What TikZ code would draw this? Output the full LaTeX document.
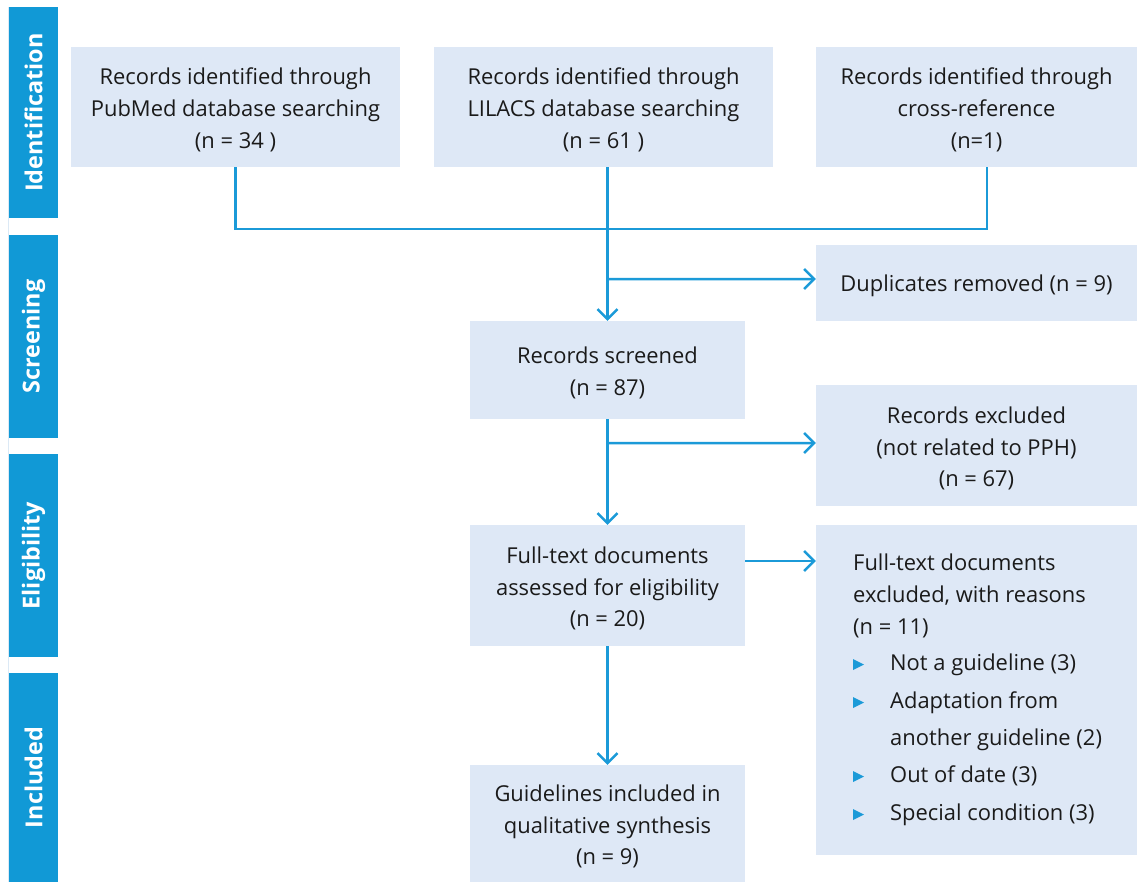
\documentclass[tikz,border=0pt]{standalone}
\usepackage{fontspec}
\setmainfont{Open Sans}
\usetikzlibrary{arrows.meta}
\definecolor{stage}{HTML}{1199D6}
\definecolor{boxfill}{HTML}{DEE8F6}
\definecolor{ink}{HTML}{1A1A1A}
\definecolor{flow}{HTML}{1B9AD8}
\definecolor{rail}{HTML}{DCE9F5}
\begin{document}
\begin{tikzpicture}[x=1bp,y=-1bp,
  stagebar/.style={fill=stage, text=white, font=\bfseries\fontsize{23.5}{26}\selectfont,
    rotate=90, inner sep=0pt, minimum height=49bp},
  flowbox/.style={fill=boxfill, inner sep=0pt},
  boxtext/.style={text=ink, inner sep=0pt, align=center, yshift=-3bp,
    font=\fontsize{22}{32}\selectfont},
  itemtext/.style={text=ink, inner sep=0pt, anchor=base west,
    font=\fontsize{22}{32}\selectfont},
  flowline/.style={draw=flow, line width=2.5bp},
  flowarrow/.style={flowline, -{Straight Barb[length=10bp,width=20bp]}},
  bulletmark/.style={fill=flow}
]
\useasboundingbox (0,0) rectangle (1137,882);

% thin rail behind the stage bars
\draw[rail, line width=1bp] (8.5,7) -- (8.5,882);

% stage bars
\node[stagebar, minimum width=211bp] (sid)  at (33.5,112.5) {Identification};
\node[stagebar, minimum width=203bp] (sscr) at (33.5,336.5) {Screening};
\node[stagebar, minimum width=203bp] (sel)  at (33.5,555.5) {Eligibility};
\node[stagebar, minimum width=209bp] (sinc) at (33.5,777.5) {Included};

% identification boxes
\node[flowbox, minimum width=329bp, minimum height=120bp] (pub) at (235.5,107) {};
\node[boxtext] (pubt) at (pub.center)
  {Records identified through\\PubMed database searching\\(n = 34 )};
\node[flowbox, minimum width=339bp, minimum height=120bp] (lil) at (603.5,107) {};
\node[boxtext] (lilt) at (lil.center)
  {Records identified through\\LILACS database searching\\(n = 61 )};
\node[flowbox, minimum width=321bp, minimum height=120bp] (cross) at (976.5,107) {};
\node[boxtext] (crosst) at (cross.center)
  {Records identified through\\cross-reference\\(n=1)};

% screening
\node[flowbox, minimum width=321bp, minimum height=76bp] (dup) at (976.5,283) {};
\node[boxtext] (dupt) at (dup.center) {Duplicates removed (n = 9)};
\node[flowbox, minimum width=275bp, minimum height=98bp] (scr) at (607.5,370) {};
\node[boxtext] (scrt) at (scr.center) {Records screened\\(n = 87)};
\node[flowbox, minimum width=321bp, minimum height=121bp] (excl) at (976.5,445.5) {};
\node[boxtext] (exclt) at (excl.center)
  {Records excluded\\(not related to PPH)\\(n = 67)};

% eligibility
\node[flowbox, minimum width=275bp, minimum height=121bp] (ft) at (607.5,585.5) {};
\node[boxtext] (ftt) at (ft.center)
  {Full-text documents\\assessed for eligibility\\(n = 20)};
\node[flowbox, minimum width=321bp, minimum height=330bp] (ftx) at (976.5,690) {};

\node[itemtext] (fx1) at (853,570) {Full-text documents};
\node[itemtext] (fx2) at (853,602) {excluded, with reasons};
\node[itemtext] (fx3) at (853,634) {(n = 11)};
\node[itemtext] (r1)  at (890,670) {Not a guideline (3)};
\node[itemtext] (r2)  at (890,708) {Adaptation from};
\node[itemtext] (r2b) at (890,745) {another guideline (2)};
\node[itemtext] (r3)  at (890,782) {Out of date (3)};
\node[itemtext] (r4)  at (890,820) {Special condition (3)};
\foreach \b in {670,708,782,820}
  \fill[bulletmark] (853,\b-11) -- (864,\b-5.5) -- (853,\b) -- cycle;

% included
\node[flowbox, minimum width=275bp, minimum height=117bp] (gl) at (607.5,823.5) {};
\node[boxtext] (glt) at (gl.center)
  {Guidelines included in\\qualitative synthesis\\(n = 9)};

% connectors
\coordinate (jn) at (607,229);
\coordinate (cdrop) at ([xshift=10.5bp]cross.south);
\draw[flowline] (pub.south) |- (jn);
\draw[flowline] (cdrop) |- (jn);
\draw[flowarrow] (scr.north |- lil.south) -- (scr.north);
\draw[flowarrow] (scr.north |- dup.west) ++(0,-4) -- ([yshift=4bp]dup.west);
\draw[flowarrow] (scr.south) -- (ft.north);
\draw[flowarrow] (scr.south |- excl.west) ++(0,-2.5) -- ([yshift=2.5bp]excl.west);
\draw[flowarrow] ([yshift=24.5bp]ft.east) -- ([yshift=24.5bp]ft.east -| ftx.west);
\draw[flowarrow] (ft.south) -- (gl.north);
\end{tikzpicture}
\end{document}
